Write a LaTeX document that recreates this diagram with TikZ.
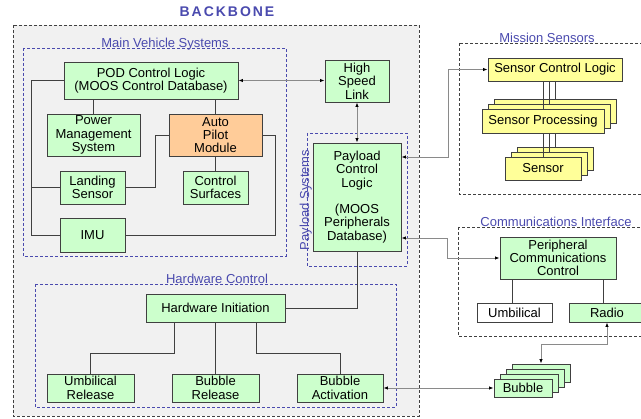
\documentclass[tikz,border=0pt]{standalone}
\usepackage{fontspec}
\setmainfont{Liberation Sans}
\usetikzlibrary{arrows.meta,calc}
\definecolor{boxgreen}{HTML}{CCFFCC}
\definecolor{boxorange}{HTML}{FFCC99}
\definecolor{boxyellow}{HTML}{FFFF99}
\definecolor{boxline}{HTML}{404040}
\definecolor{grpblue}{HTML}{4A4AAE}
\definecolor{bgray}{HTML}{F1F1F1}
\definecolor{arrgray}{HTML}{8A8A8A}
\begin{document}
\begin{tikzpicture}[x=1pt,y=-1pt,
  font=\fontsize{13}{13.3}\selectfont,
  box/.style={draw=boxline, line width=0.9pt, fill=boxgreen, align=center, inner sep=0pt},
  obox/.style={box, fill=boxorange},
  ybox/.style={box, fill=boxyellow},
  wbox/.style={box, fill=white},
  grpblack/.style={draw=boxline, line width=0.8pt, dash pattern=on 3pt off 2pt},
  grpbluebox/.style={draw=grpblue, line width=0.7pt, dash pattern=on 3pt off 2pt},
  grplabel/.style={text=grpblue, inner sep=0pt},
  conn/.style={draw=boxline, line width=0.9pt},
  arr/.style={draw=arrgray, line width=0.8pt, {Latex[length=4.5pt,width=3.5pt,color=black]}-{Latex[length=4.5pt,width=3.5pt,color=black]}}
]
\useasboundingbox (0,0) rectangle (641,419);
\clip (0,0) rectangle (641,419);

% title
\node[text=grpblue, font=\fontsize{14}{16}\selectfont\bfseries\addfontfeatures{LetterSpace=14}] (title) at (227,12) {BACKBONE};

% group boxes
\draw[grpblack, fill=bgray] (13,25) rectangle (419,416);
\draw[grpbluebox] (23,48) rectangle (286,256);
\draw[grpbluebox] (307,133) rectangle (407,266);
\draw[grpbluebox] (35,284) rectangle (396,407);
\draw[grpblack] (459,43) rectangle (660,194);
\draw[grpblack] (458,227) rectangle (660,336);

\node[grplabel, anchor=base] (lmvs) at (165,48) {Main Vehicle Systems};
\node[grplabel, anchor=base] (lms) at (547,43) {Mission Sensors};
\node[grplabel, anchor=base] (lci) at (556,227) {Communications Interface};
\node[grplabel, anchor=base] (lhc) at (217,284) {Hardware Control};
\node[grplabel, anchor=base, rotate=90] (lps) at (309,200) {Payload Systems};

% main vehicle systems
\node[box, minimum width=174pt, minimum height=37pt] (pod) at (151,80.5) {POD Control Logic\\(MOOS Control Database)};
\node[box, minimum width=93pt, minimum height=42pt] (pms) at (93.5,135) {Power\\Management\\System};
\node[obox, minimum width=93pt, minimum height=42pt] (apm) at (215.5,135) {Auto\\Pilot\\Module};
\node[box, minimum width=65pt, minimum height=33pt] (ls) at (92.5,187.5) {Landing\\Sensor};
\node[box, minimum width=65pt, minimum height=33pt] (cs) at (215.5,187.5) {Control\\Surfaces};
\node[box, minimum width=65pt, minimum height=34pt] (imu) at (92.5,235) {IMU};

% high speed link & payload
\node[box, minimum width=64pt, minimum height=42pt] (hsl) at (357,81) {High\\Speed\\Link};
\node[box, minimum width=88pt, minimum height=108pt] (pcl) at (357,197) {Payload\\Control\\Logic\\~\\(MOOS\\Peripherals\\Database)};

% hardware control
\node[box, minimum width=139pt, minimum height=28pt] (hi) at (215.5,308) {Hardware Initiation};
\node[box, minimum width=87pt, minimum height=28pt] (ur) at (90.5,388) {Umbilical\\Release};
\node[box, minimum width=87pt, minimum height=28pt] (br) at (215.5,388) {Bubble\\Release};
\node[box, minimum width=86pt, minimum height=28pt] (ba) at (340,388) {Bubble\\Activation};

% mission sensors
\node[ybox, minimum width=134pt, minimum height=23pt] (scl) at (555,69.5) {Sensor Control Logic};
\node[ybox, minimum width=122pt, minimum height=24pt] (sp3) at (555,111) {};
\node[ybox, minimum width=122pt, minimum height=24pt] (sp2) at (549,116) {};
\node[ybox, minimum width=122pt, minimum height=24pt] (sp1) at (543,121) {Sensor Processing};
\node[ybox, minimum width=76pt, minimum height=23pt] (se3) at (555,158.5) {};
\node[ybox, minimum width=76pt, minimum height=23pt] (se2) at (549,163.5) {};
\node[ybox, minimum width=76pt, minimum height=23pt] (se1) at (543,168.5) {Sensor};

% communications
\node[box, minimum width=116pt, minimum height=42pt] (pcc) at (558,258) {Peripheral\\Communications\\Control};
\node[wbox, minimum width=75pt, minimum height=19pt] (umb) at (514.5,312.5) {Umbilical};
\node[box, minimum width=76pt, minimum height=19pt] (radio) at (607,312.5) {Radio};

% bubbles
\node[box, minimum width=58pt, minimum height=18pt] (bu4) at (541,373) {};
\node[box, minimum width=58pt, minimum height=18pt] (bu3) at (535,378) {};
\node[box, minimum width=58pt, minimum height=18pt] (bu2) at (529,383) {};
\node[box, minimum width=58pt, minimum height=18pt] (bu1) at (523,388) {Bubble};

% connectors main vehicle
\draw[conn] (pod.west) -- ++(-32,0) coordinate (lbus) |- (imu.west);
\draw[conn] (lbus |- ls.west) -- (ls.west);
\draw[conn] (pms.north) -- (pms.north |- pod.south);
\draw[conn] (apm.north) -- (apm.north |- pod.south);
\draw[conn] (ls.east) -- ++(30,0) |- (apm.west);
\draw[conn] (apm.east) -- ++(13,0) |- (imu.east);
\draw[conn] (apm.south) -- (cs.north);

% hardware connectors
\draw[conn] ([xshift=-41.5pt]hi.south) -- ++(0,31) -| (ur.north);
\draw[conn] (hi.south) -- (br.north);
\draw[conn] ([xshift=40.5pt]hi.south) -- ++(0,31) -| (ba.north);
\draw[conn] (hi.east) -| (pcl.south);

% sensor connectors
\draw[conn] ([xshift=-12pt]scl.south) -- (sp1.north);
\draw[conn] ([xshift=-6pt]scl.south) -- (sp2.north);
\draw[conn] (scl.south) -- (sp3.north);
\draw[conn] (sp1.south) -- (se1.north);
\draw[conn] ([xshift=6pt]sp1.south) -- (se2.north);
\draw[conn] ([xshift=12pt]sp1.south) -- (se3.north);

% comm connectors
\draw[conn] (umb.north -| 512,0) -- (pcc.south -| 512,0);
\draw[conn] (radio.north -| 603,0) -- (pcc.south -| 603,0);

% arrows
\draw[arr] (pod.east) -- (pod.east -| hsl.west);
\draw[arr] (hsl.south) -- (pcl.north);
\draw[arr] ([yshift=40pt]pcl.east) -- ++(47,0) |- (scl.west);
\draw[arr] ([yshift=-41pt]pcl.east) -- ++(46,0) |- (pcc.west);
\draw[arr] (radio.south) -- ++(0,22) -| (bu4.north);
\draw[arr] (ba.east) -- (bu1.west);
\end{tikzpicture}
\end{document}
